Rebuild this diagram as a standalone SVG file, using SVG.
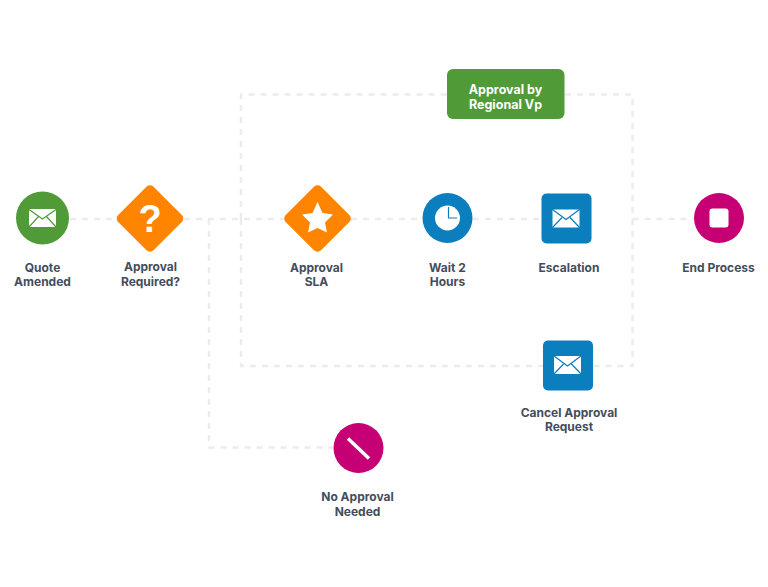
<svg xmlns="http://www.w3.org/2000/svg" width="768" height="587" viewBox="0 0 768 587">
<style>
.c{fill:none;stroke:#ececec;stroke-width:2.5;stroke-dasharray:6 6}
text{font-family:Inter,"Liberation Sans",sans-serif;font-size:12px;font-weight:700;fill:#434d5c;text-anchor:middle}
.w{fill:#fff}
text.w{fill:#fff;font-size:12.5px}
</style>
<defs>
<g id="mail"><rect x="-13.500" y="-9" width="27" height="18" rx="1" fill="#fff"/></g>
</defs>
<rect width="768" height="587" fill="#fff"/>
<g id="connectors">
<path class="c" d="M70 219H117"/>
<path class="c" d="M184 219H284"/>
<path class="c" d="M209 219V447.500H333"/>
<path class="c" d="M241 219V94.500H447"/>
<path class="c" d="M241 219V366H543"/>
<path class="c" d="M351 219H422"/>
<path class="c" d="M473 219H541"/>
<path class="c" d="M565 94.500H632.500V366H593"/>
<path class="c" d="M632.500 219H694"/>
</g>
<g id="quote-amended">
<circle cx="42.500" cy="218" r="26.500" fill="#509a38"/>
<use href="#mail" x="42.500" y="218"/>
<path d="M29 209.500L42.500 219L56 209.500M29 227L38.500 216.500M56 227L46.500 216.500" fill="none" stroke="#509a38" stroke-width="1.200"/>
<text x="42.500" y="271.500">Quote</text><text x="42.500" y="286">Amended</text>
</g>
<g id="approval-required">
<rect x="125" y="193.500" width="50" height="50" rx="5" transform="rotate(45 150 218.500)" fill="#ff8400"/>
<text x="150" y="232" style="font-size:38px;fill:#fff;font-family:'Liberation Sans',sans-serif">?</text>
<text x="150.500" y="271">Approval</text><text x="150.500" y="285.500">Required?</text>
</g>
<g id="approval-sla">
<rect x="292.500" y="193.500" width="50" height="50" rx="5" transform="rotate(45 317.500 218.500)" fill="#ff8400"/>
<polygon class="w" points="317.500,202 322.500,213 333,214.500 325,222.500 327,232.500 317.500,228 308,232.500 310,222.500 302,214.500 312.500,213"/>
<text x="316.500" y="271.500">Approval</text><text x="316.500" y="286">SLA</text>
</g>
<g id="wait-2-hours">
<circle cx="447.500" cy="218" r="25" fill="#0b7ebd"/>
<circle cx="447.500" cy="218" r="12.500" fill="#fff"/>
<path d="M448.500 207V218H457" fill="none" stroke="#0b7ebd" stroke-width="1.200"/>
<text x="447.500" y="271.500">Wait 2</text><text x="447.500" y="286">Hours</text>
</g>
<g id="escalation">
<rect x="541.500" y="193.500" width="50" height="50" rx="5" fill="#0b7ebd"/>
<use href="#mail" x="566" y="218.500"/>
<path d="M552.500 209.500L566 219.500L579.500 209.500M552.500 227.500L562 217.500M579.500 227.500L570 217.500" fill="none" stroke="#0b7ebd" stroke-width="1.200"/>
<text x="569" y="271.500">Escalation</text>
</g>
<g id="end-process">
<circle cx="719" cy="218" r="25" fill="#c60074"/>
<rect x="709.500" y="208.500" width="19" height="19" rx="3" fill="#fff"/>
<text x="718.500" y="271.500">End Process</text>
</g>
<g id="approval-by-regional-vp">
<rect x="447" y="69" width="117.500" height="50" rx="6" fill="#509a38"/>
<text class="w" x="505.500" y="94">Approval by</text><text class="w" x="505.500" y="109">Regional Vp</text>
</g>
<g id="cancel-approval-request">
<rect x="543" y="340.500" width="50" height="50" rx="5" fill="#0b7ebd"/>
<use href="#mail" x="567.500" y="365"/>
<path d="M554 356L567.500 366L581 356M554 374L563.500 364M581 374L571.500 364" fill="none" stroke="#0b7ebd" stroke-width="1.200"/>
<text x="569" y="416.500">Cancel Approval</text><text x="569" y="431">Request</text>
</g>
<g id="no-approval-needed">
<circle cx="358.500" cy="448" r="25" fill="#c60074"/>
<path d="M348 438.500L369 458.500" stroke="#fff" stroke-width="3.500" fill="none"/>
<text x="357.500" y="501">No Approval</text><text x="357.500" y="515.500">Needed</text>
</g>
</svg>
